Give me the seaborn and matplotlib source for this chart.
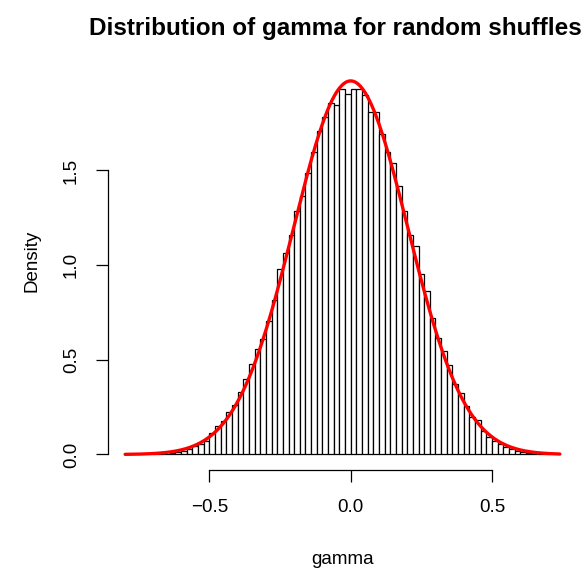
import numpy as np
import pandas as pd
import seaborn as sns
import matplotlib
matplotlib.use("Agg")
import matplotlib.pyplot as plt

# ---- data ----
bin_left = -0.70
bin_width = 0.02
densities = [
    0.001, 0.002, 0.004, 0.009, 0.014, 0.021, 0.030, 0.044, 0.058, 0.071,
    0.115, 0.150, 0.176, 0.226, 0.259, 0.332, 0.397, 0.476, 0.556, 0.608,
    0.705, 0.815, 0.982, 1.062, 1.160, 1.287, 1.367, 1.485, 1.596, 1.711,
    1.781, 1.855, 1.847, 1.931, 1.906,
    1.931, 1.931, 1.899, 1.808, 1.808, 1.693, 1.600, 1.538, 1.420, 1.287,
    1.159, 1.102, 0.952, 0.864, 0.723, 0.617, 0.547, 0.471, 0.370, 0.323,
    0.256, 0.198, 0.182, 0.123, 0.092, 0.071, 0.053, 0.041, 0.030, 0.021,
    0.014, 0.009, 0.005, 0.004, 0.002,
]
fit_mean = 0.0
fit_sd = 0.2022
curve_from, curve_to = -0.798, 0.740
x_ticks = [-0.5, 0.0, 0.5]
x_ticklabels = ["\u22120.5", "0.0", "0.5"]
y_ticks = [0.0, 0.5, 1.0, 1.5]
y_ticklabels = ["0.0", "0.5", "1.0", "1.5"]
title = "Distribution of gamma for random shuffles"
x_label = "gamma"
y_label = "Density"

# ---- build frames ----
n = len(densities)
edges = bin_left + bin_width * np.arange(n + 1)
centers = edges[:-1] + bin_width / 2
hist_df = pd.DataFrame({"gamma": centers, "density": densities})

xs = np.linspace(curve_from, curve_to, 400)
curve_df = pd.DataFrame({
    "gamma": xs,
    "density": np.exp(-0.5 * ((xs - fit_mean) / fit_sd) ** 2) / (fit_sd * np.sqrt(2 * np.pi)),
})

sns.set_style("white")
plt.rcParams["font.family"] = ["Liberation Sans", "DejaVu Sans"]
plt.rcParams["text.color"] = "black"
plt.rcParams["axes.labelcolor"] = "black"
plt.rcParams["xtick.color"] = "black"
plt.rcParams["ytick.color"] = "black"

fig = plt.figure(figsize=(5.88, 5.68), dpi=100)
W, H = 588, 568
ax = fig.add_axes([107.6 / W, 98 / H, (577.4 - 107.6) / W, (517 - 98) / H])

sns.histplot(data=hist_df, x="gamma", weights="density",
             binwidth=bin_width, binrange=(edges[0], edges[-1]),
             stat="count", color="white", alpha=1.0, edgecolor="black",
             linewidth=0.9, ax=ax)
sns.lineplot(data=curve_df, x="gamma", y="density", color="red",
             linewidth=2.4, ax=ax)

ax.set_xlim(-0.860, 0.802)
ax.set_ylim(-0.0819, 2.131)

for s in ["top", "right"]:
    ax.spines[s].set_visible(False)
for s in ["left", "bottom"]:
    ax.spines[s].set_color("black")
    ax.spines[s].set_linewidth(0.9)
ax.spines["bottom"].set_bounds(-0.5, 0.5)
ax.spines["left"].set_bounds(0.0, 1.5)

ax.set_xticks(x_ticks)
ax.set_xticklabels(x_ticklabels)
ax.set_yticks(y_ticks)
ax.set_yticklabels(y_ticklabels, rotation=90, va="center")
ax.tick_params(axis="both", direction="out", length=8.8, width=0.9,
               color="black", labelsize=13.5, labelcolor="black",
               bottom=True, left=True)
ax.tick_params(axis="x", pad=12)
ax.tick_params(axis="y", pad=11)

ax.set_xlabel(x_label, fontsize=13.5, color="black")
ax.set_ylabel(y_label, fontsize=13.5, color="black")
ax.xaxis.set_label_coords(0.5, -(559 - 470) / 419)
ax.xaxis.label.set_va("center")
ax.yaxis.set_label_coords(-(107.6 - 32) / 469.8, 0.5)
ax.yaxis.label.set_va("center")

fig.text(335 / W, 1 - 29 / H, title, ha="center", va="center",
         fontsize=17.5, fontweight="bold", color="black")

fig.savefig("out.png", dpi=100)
